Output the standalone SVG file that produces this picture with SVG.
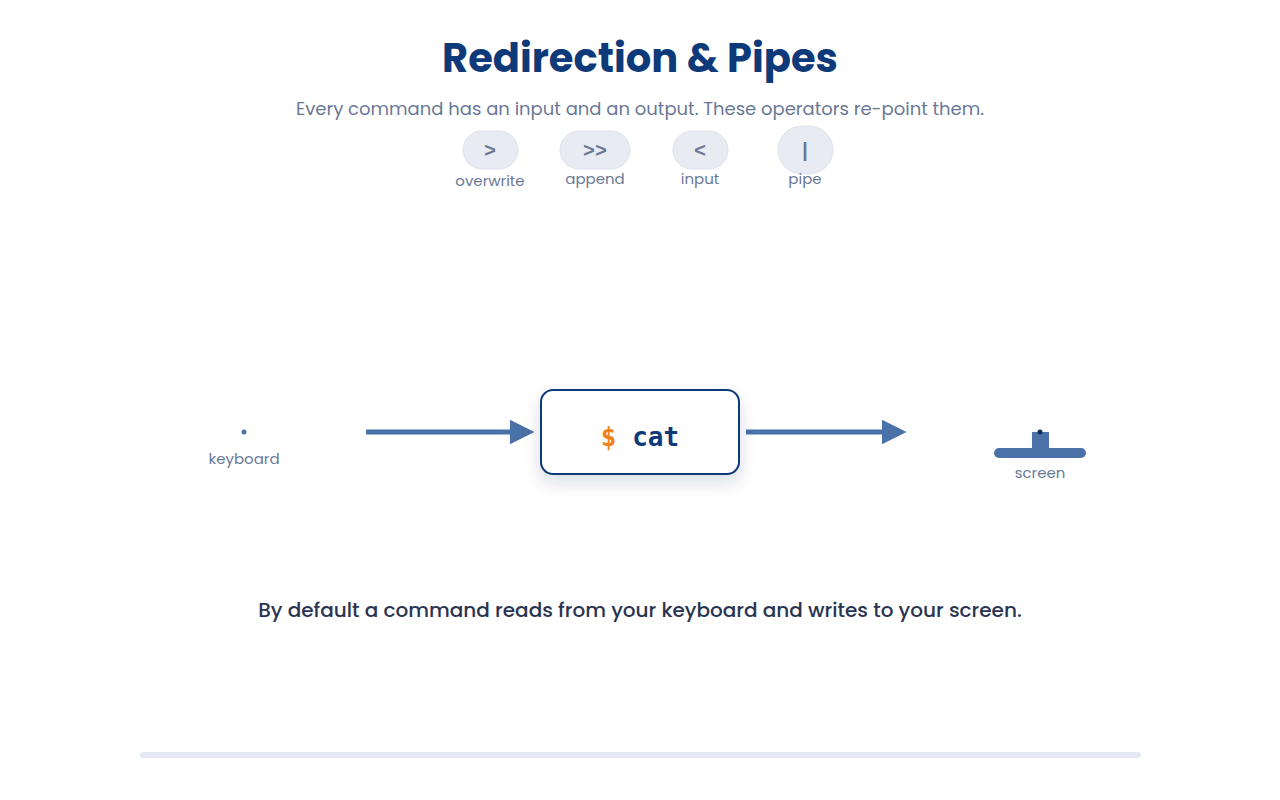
<svg xmlns="http://www.w3.org/2000/svg" width="1280" height="800" viewBox="0 0 1280 800">
<style>
.pill{fill:#e8ebf2;stroke:#dde2ec;stroke-width:1}
.op{font-family:"Liberation Mono",monospace;font-size:20px;font-weight:bold;fill:#6a7896;text-anchor:middle}
.lbl{font-family:Poppins,"Noto Sans",sans-serif;font-size:15px;fill:#6a7896;text-anchor:middle}
.conn{stroke:#4a72a8;stroke-width:5;fill:none}
</style>
<defs>
<marker id="ah" viewBox="0 0 10 10" refX="1" refY="5" markerWidth="5" markerHeight="6.2" orient="auto" markerUnits="strokeWidth"><path d="M0,0L10,5L0,10z" fill="#4a72a8"/></marker>
<filter id="sh" x="-20%" y="-20%" width="140%" height="160%"><feDropShadow dx="0" dy="8" stdDeviation="8" flood-color="#1a3060" flood-opacity="0.15"/></filter>
</defs>
<rect width="1280" height="800" fill="#fff"/>
<text x="640" y="72" text-anchor="middle" font-family="Poppins,'Noto Sans',sans-serif" font-size="40" font-weight="bold" fill="#0e3a7a">Redirection &amp; Pipes</text>
<text x="640" y="115" text-anchor="middle" font-family="Poppins,'Noto Sans',sans-serif" font-size="18" fill="#6a7896">Every command has an input and an output. These operators re-point them.</text>
<g id="op-overwrite"><rect class="pill" x="463" y="131" width="55" height="38" rx="19"/><text class="op" x="490" y="157">&gt;</text><text class="lbl" x="490" y="186">overwrite</text></g>
<g id="op-append"><rect class="pill" x="560" y="131" width="70" height="38" rx="19"/><text class="op" x="595" y="157">&gt;&gt;</text><text class="lbl" x="595" y="184">append</text></g>
<g id="op-input"><rect class="pill" x="673" y="131" width="55" height="38" rx="19"/><text class="op" x="700" y="157">&lt;</text><text class="lbl" x="700" y="184">input</text></g>
<g id="op-pipe"><rect class="pill" x="778" y="126" width="55" height="48" rx="24"/><text class="op" x="805" y="157">|</text><text class="lbl" x="805" y="184">pipe</text></g>
<g id="keyboard"><circle cx="244" cy="432" r="2.5" fill="#4a72a8"/><text class="lbl" x="244" y="464" font-size="16.5">keyboard</text></g>
<g id="connectors">
<line class="conn" x1="366" y1="432" x2="512" y2="432" marker-end="url(#ah)"/>
<line class="conn" x1="746" y1="432" x2="884" y2="432" marker-end="url(#ah)"/>
</g>
<g id="cat"><rect x="541" y="390" width="198" height="84" rx="12" fill="#fff" stroke="#0e3a7a" stroke-width="2" filter="url(#sh)"/>
<text x="640" y="446" text-anchor="middle" font-family="'DejaVu Sans Mono',monospace" font-size="26" font-weight="bold" fill="#0e3a7a"><tspan fill="#f0821e">$</tspan> cat</text></g>
<g id="screen"><rect x="1032" y="432" width="17" height="18" fill="#4a72a8"/><rect x="994" y="448" width="92" height="10" rx="5" fill="#4a72a8"/><circle cx="1040" cy="432" r="2.5" fill="#0e2a5a"/><text class="lbl" x="1040" y="478" font-size="16.5">screen</text></g>
<text x="640" y="617" text-anchor="middle" font-family="Poppins,'Noto Sans',sans-serif" font-size="20" font-weight="500" fill="#2a3450">By default a command reads from your keyboard and writes to your screen.</text>
<rect x="140" y="752" width="1001" height="6" rx="3" fill="#e4e8f2"/>
</svg>
